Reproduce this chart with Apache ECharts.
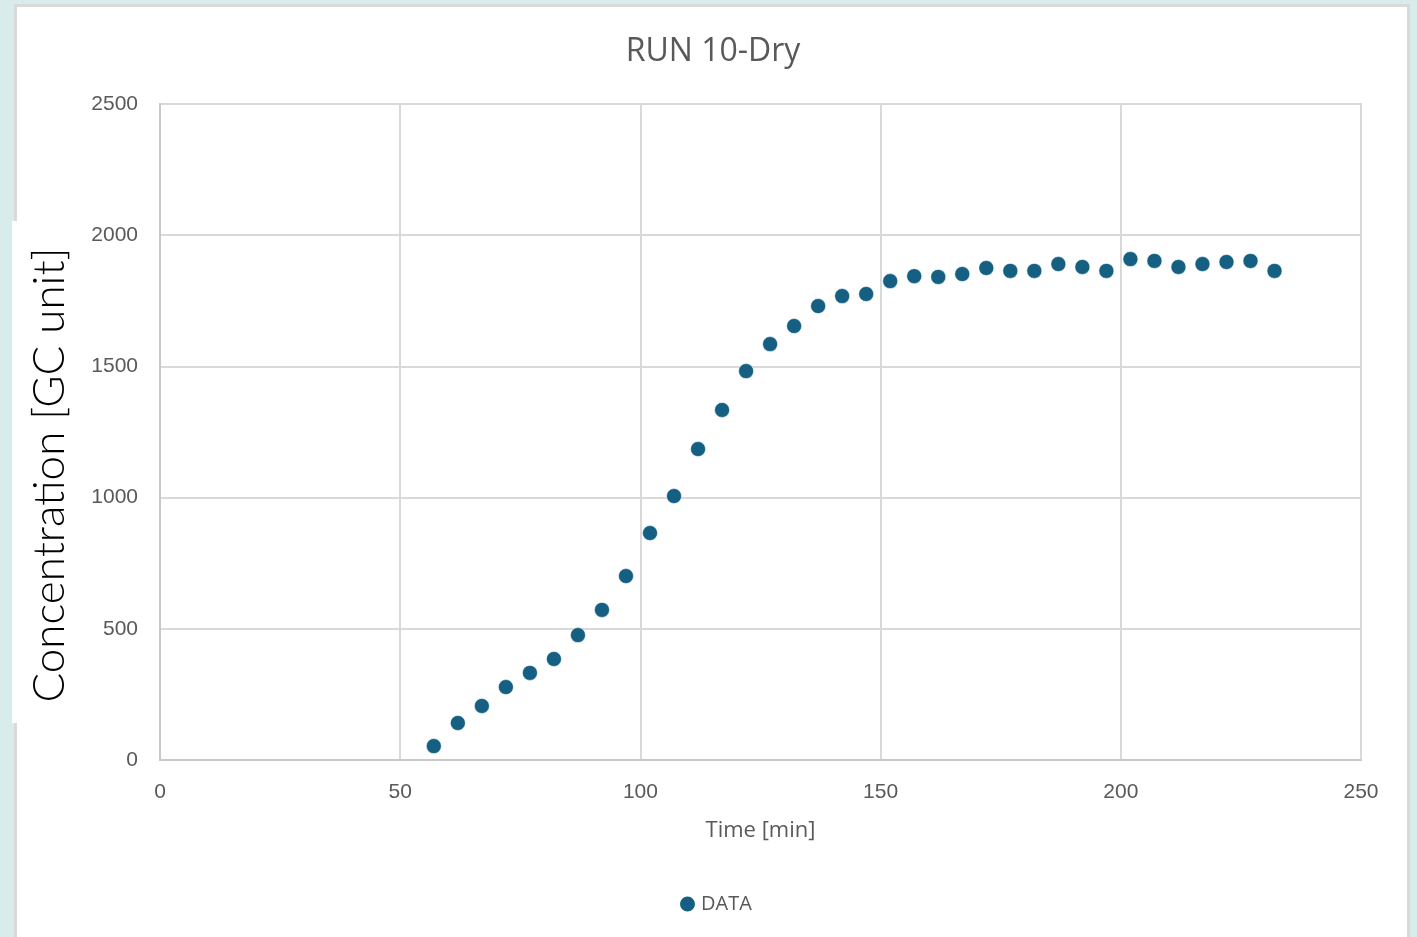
<!DOCTYPE html>
<html>
<head>
<meta charset="utf-8">
<script src="https://cdn.jsdelivr.net/npm/echarts@6/dist/echarts.min.js"></script>
<style>
  html, body { margin: 0; padding: 0; background: #d9ecec; width: 1417px; height: 937px; overflow: hidden; }
  #panel { position: absolute; left: 14px; top: 4px; width: 1390px; height: 960px; background: #fff; border: 3px solid #d9d9d9; }
  #cover { position: absolute; left: 12px; top: 221px; width: 8px; height: 502px; background: #fff; }
  #chart { position: absolute; left: 0; top: 0; width: 1417px; height: 937px; }
</style>
</head>
<body>
<div id="panel"></div>
<div id="cover"></div>
<div id="chart"></div>
<script>
const titleText = 'RUN 10-Dry';
const seriesName = 'DATA';
const xTitle = 'Time [min]';
const yTitle = 'Concentration [GC unit]';
const timeMin = [57, 62, 67, 72, 77, 82, 87, 92, 97, 102, 107, 112, 117, 122, 127, 132, 137, 142, 147,
                 152, 157, 162, 167, 172, 177, 182, 187, 192, 197, 202, 207, 212, 217, 222, 227, 232];
const concentration = [53, 141, 206, 278, 332, 385, 476, 572, 701, 865, 1006, 1185, 1334, 1482, 1585, 1654, 1730, 1768, 1776,
                       1825, 1844, 1841, 1852, 1875, 1864, 1864, 1890, 1879, 1864, 1909, 1902, 1879, 1890, 1898, 1902, 1864];
const xTicks = { min: 0, max: 250, interval: 50 };
const yTicks = { min: 0, max: 2500, interval: 500 };

const points = timeMin.map((t, i) => [t, concentration[i]]);
const chart = echarts.init(document.getElementById('chart'), null, { renderer: 'canvas' });
const grey = '#595959';
chart.setOption({
  backgroundColor: 'transparent',
  animation: false,
  title: {
    text: titleText,
    left: 708, top: 31, textAlign: 'center',
    textStyle: { fontFamily: 'Open Sans', fontSize: 32, fontWeight: 'normal', color: grey }
  },
  legend: {
    data: [seriesName],
    left: 673, top: 889, itemWidth: 17, itemHeight: 17, itemGap: 4,
    textStyle: { fontFamily: 'Open Sans', fontSize: 20, color: grey },
    icon: 'circle'
  },
  grid: { left: 160, right: 56, top: 104, bottom: 177, show: true, borderColor: '#d9d9d9', borderWidth: 2 },
  graphic: [{
    type: 'text',
    x: 50, y: 475, rotation: Math.PI / 2,
    style: { text: yTitle, fontFamily: 'Lato', fontWeight: 300, fontSize: 44, fill: '#000', textAlign: 'center', textVerticalAlign: 'middle' }
  }],
  xAxis: {
    type: 'value', min: xTicks.min, max: xTicks.max, interval: xTicks.interval,
    name: xTitle, nameLocation: 'middle', nameGap: 60,
    nameTextStyle: { fontFamily: 'Open Sans', fontSize: 22, color: grey },
    axisLine: { show: true, lineStyle: { color: '#c8c8c8', width: 2 } },
    axisTick: { show: false },
    splitLine: { show: true, lineStyle: { color: '#d9d9d9', width: 2 } },
    axisLabel: { margin: 22, fontFamily: 'Liberation Sans', fontSize: 21, color: grey }
  },
  yAxis: {
    type: 'value', min: yTicks.min, max: yTicks.max, interval: yTicks.interval,
    axisLine: { show: true, lineStyle: { color: '#c8c8c8', width: 2 } },
    axisTick: { show: false },
    splitLine: { show: true, lineStyle: { color: '#d9d9d9', width: 2 } },
    axisLabel: { margin: 22, fontFamily: 'Liberation Sans', fontSize: 21, color: grey, formatter: v => String(v) }
  },
  series: [{
    name: seriesName,
    type: 'scatter',
    data: points,
    symbol: 'circle',
    symbolSize: 15,
    itemStyle: { color: '#156082', opacity: 1, borderColor: '#ffffff', borderWidth: 0.5 }
  }]
});
</script>
</body>
</html>
